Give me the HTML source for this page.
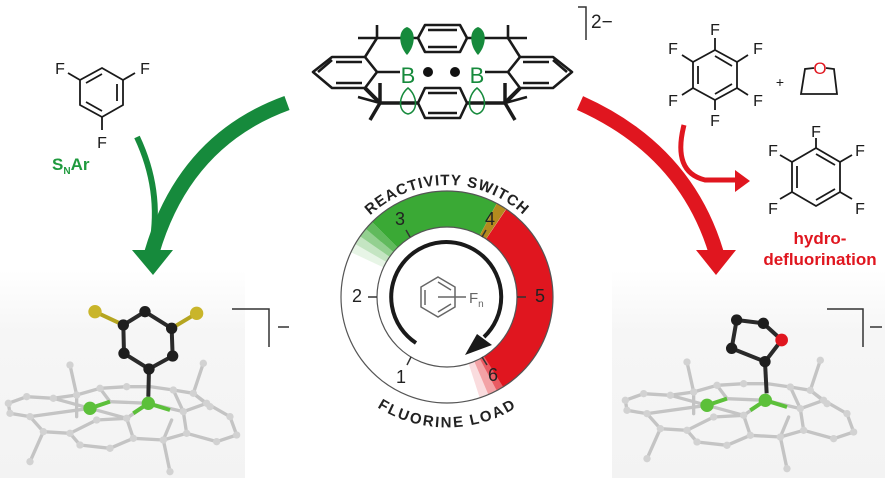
<!DOCTYPE html>
<html><head><meta charset="utf-8"><style>
html,body{margin:0;padding:0;background:#fff;}
svg{display:block;font-family:"Liberation Sans",sans-serif;}
</style></head><body>
<svg width="885" height="478" viewBox="0 0 885 478" xmlns="http://www.w3.org/2000/svg">
<defs>
<linearGradient id="bgL" x1="0" y1="0" x2="0" y2="1"><stop offset="0" stop-color="#fff"/><stop offset="0.3" stop-color="#f6f6f6"/><stop offset="1" stop-color="#f3f3f3"/></linearGradient>
<g id="frame">
 <g fill="none" stroke="#c4c4c4" stroke-width="10" stroke-linejoin="round" stroke-linecap="round">
  <polygon points="25,400 80,380 160,385 230,375 300,355 380,350 450,350 520,360 580,370 620,400 690,440 710,495 650,515 560,490 490,510 400,505 330,535 240,525 210,490 130,485 90,440 30,430"/>
  <polyline points="90,440 270,415 380,445 445,400 550,425 560,490"/>
  <polyline points="160,385 270,415"/>
  <polyline points="300,355 330,395 445,400"/>
  <polyline points="210,490 290,450 380,445 400,505"/>
  <polyline points="520,360 550,425 620,400"/>
  <polyline points="230,375 210,285"/><polyline points="230,375 230,440"/>
  <polyline points="580,370 610,280"/><polyline points="580,370 630,410"/>
  <polyline points="130,485 90,575"/><polyline points="490,510 515,450"/><polyline points="490,510 510,605"/>
 </g>
 <g fill="#d2d2d2">
  <circle cx="25" cy="400" r="11"/><circle cx="80" cy="380" r="11"/><circle cx="160" cy="385" r="11"/><circle cx="230" cy="375" r="11"/><circle cx="300" cy="355" r="11"/><circle cx="380" cy="350" r="11"/><circle cx="520" cy="360" r="11"/><circle cx="580" cy="370" r="11"/><circle cx="620" cy="400" r="11"/><circle cx="690" cy="440" r="11"/><circle cx="710" cy="495" r="11"/><circle cx="650" cy="515" r="11"/><circle cx="560" cy="490" r="11"/><circle cx="490" cy="510" r="11"/><circle cx="400" cy="505" r="11"/><circle cx="330" cy="535" r="11"/><circle cx="240" cy="525" r="11"/><circle cx="210" cy="490" r="11"/><circle cx="130" cy="485" r="11"/><circle cx="90" cy="440" r="11"/><circle cx="30" cy="430" r="11"/><circle cx="210" cy="285" r="11"/><circle cx="610" cy="280" r="11"/><circle cx="90" cy="575" r="11"/><circle cx="510" cy="605" r="11"/><circle cx="630" cy="410" r="11"/><circle cx="380" cy="445" r="11"/><circle cx="290" cy="450" r="11"/><circle cx="550" cy="425" r="11"/>
 </g>
 <g stroke="#5cc03a" stroke-width="12"><line x1="270" y1="415" x2="330" y2="395"/><line x1="445" y1="400" x2="510" y2="420"/><line x1="445" y1="400" x2="400" y2="430"/></g>
 <circle cx="270" cy="415" r="20" fill="#5cc03a"/><circle cx="445" cy="400" r="20" fill="#5cc03a"/>
</g>
</defs>

<rect x="0" y="270" width="245" height="208" fill="url(#bgL)"/>
<rect x="612" y="270" width="273" height="208" fill="url(#bgL)"/>

<!-- top macrocycle -->
<g fill="none" stroke="#1a1a1a" stroke-width="2.6" stroke-linejoin="round">
 <polygon points="313,72 332,57 365,57 377,72 365,88 332,88"/>
 <line x1="336" y1="62" x2="362" y2="62"/><line x1="336" y1="83" x2="362" y2="83"/><line x1="318" y1="72" x2="332" y2="60"/>
 <polygon points="572,72 553,57 520,57 508,72 520,88 553,88"/>
 <line x1="523" y1="62" x2="549" y2="62"/><line x1="523" y1="83" x2="549" y2="83"/><line x1="567" y1="72" x2="553" y2="60"/>
 <polygon points="425,25 460,25 467,38 460,52 425,52 418,38"/>
 <line x1="428" y1="30" x2="457" y2="30"/><line x1="428" y1="47" x2="457" y2="47"/>
 <polygon points="425,88 460,88 467,103 460,118 425,118 418,103"/>
 <line x1="428" y1="93" x2="457" y2="93"/><line x1="428" y1="113" x2="457" y2="113"/>
 <line x1="377" y1="72" x2="400" y2="72"/><line x1="485" y1="72" x2="508" y2="72"/>
 <line x1="365" y1="57" x2="377" y2="38"/><line x1="377" y1="38" x2="418" y2="38"/><line x1="377" y1="38" x2="358" y2="38"/><line x1="377" y1="38" x2="377" y2="25"/>
 <line x1="520" y1="57" x2="508" y2="38"/><line x1="508" y1="38" x2="467" y2="38"/><line x1="508" y1="38" x2="527" y2="38"/><line x1="508" y1="38" x2="508" y2="25"/>
 <line x1="365" y1="88" x2="380" y2="103" stroke-width="4"/><line x1="380" y1="103" x2="418" y2="103" stroke-width="3.5"/><line x1="380" y1="103" x2="380" y2="83" stroke-width="3.5"/><line x1="380" y1="103" x2="370" y2="120" stroke-width="3.5"/><line x1="380" y1="103" x2="358" y2="97"/>
 <line x1="520" y1="88" x2="505" y2="103" stroke-width="4"/><line x1="505" y1="103" x2="467" y2="103" stroke-width="3.5"/><line x1="505" y1="103" x2="505" y2="83" stroke-width="3.5"/><line x1="505" y1="103" x2="515" y2="120" stroke-width="3.5"/><line x1="505" y1="103" x2="527" y2="97"/>
</g>
<path d="M407,55 C398,45 398,30 407,27 C416,30 416,45 407,55Z" fill="#168a3c"/>
<path d="M478,55 C469,45 469,30 478,27 C487,30 487,45 478,55Z" fill="#168a3c"/>
<path d="M408,88 C398,96 398,112 408,114 C418,112 418,96 408,88Z" fill="none" stroke="#168a3c" stroke-width="1.5"/>
<path d="M477,88 C467,96 467,112 477,114 C487,112 487,96 477,88Z" fill="none" stroke="#168a3c" stroke-width="1.5"/>
<text x="408" y="83" font-size="22" fill="#168a3c" text-anchor="middle">B</text>
<text x="477" y="83" font-size="22" fill="#168a3c" text-anchor="middle">B</text>
<circle cx="428" cy="72" r="5" fill="#111"/><circle cx="455" cy="72" r="5" fill="#111"/>
<polyline points="578,7 586,7 586,40" fill="none" stroke="#333" stroke-width="1.5"/>
<text x="591" y="28" font-size="19" fill="#222">2−</text>

<!-- trifluorobenzene -->
<g fill="none" stroke="#1a1a1a" stroke-width="1.8">
 <polygon points="102,68 123,80 123,105 102,117 80,105 80,80"/>
 <line x1="86" y1="83" x2="102" y2="74"/><line x1="117" y1="84" x2="117" y2="101"/><line x1="86" y1="102" x2="102" y2="111"/>
 <line x1="80" y1="80" x2="68" y2="73"/><line x1="123" y1="80" x2="135" y2="73"/><line x1="102" y1="117" x2="102" y2="130"/>
</g>
<g font-size="16" fill="#1a1a1a" text-anchor="middle"><text x="60" y="74">F</text><text x="145" y="74">F</text><text x="102" y="148">F</text></g>
<text x="52" y="170" font-size="17" font-weight="bold" fill="#1f9a3e">S<tspan font-size="10" dy="4">N</tspan><tspan dy="-4">Ar</tspan></text>

<!-- green arrows -->
<path d="M137,137 Q162,190 152,245" fill="none" stroke="#168a3c" stroke-width="6"/>
<path d="M287,103 Q185,140 152,252" fill="none" stroke="#168a3c" stroke-width="15"/>
<polygon points="132,250 173,250 153,275" fill="#168a3c"/>

<!-- red side -->
<g fill="none" stroke="#1a1a1a" stroke-width="1.8">
 <polygon points="715,50 737,62 737,88 715,100 693,88 693,62"/>
 <line x1="715" y1="56" x2="732" y2="66"/><line x1="698" y1="66" x2="698" y2="84"/><line x1="715" y1="94" x2="732" y2="84"/>
 <line x1="715" y1="50" x2="715" y2="38"/><line x1="737" y1="62" x2="748" y2="55"/><line x1="737" y1="88" x2="748" y2="95"/><line x1="715" y1="100" x2="715" y2="110"/><line x1="693" y1="88" x2="682" y2="95"/><line x1="693" y1="62" x2="682" y2="55"/>
 <polyline points="814,68 805,69 801,94 837,94 834,69 826,68"/>
 <polygon points="816,148 840,162 840,192 816,206 792,192 792,162"/>
 <line x1="816" y1="154" x2="835" y2="165"/><line x1="797" y1="166" x2="797" y2="188"/><line x1="816" y1="200" x2="835" y2="189"/>
 <line x1="816" y1="148" x2="816" y2="138"/><line x1="840" y1="162" x2="852" y2="155"/><line x1="840" y1="192" x2="852" y2="199"/><line x1="792" y1="192" x2="780" y2="199"/><line x1="792" y1="162" x2="780" y2="155"/>
</g>
<g font-size="16" fill="#1a1a1a" text-anchor="middle">
 <text x="715" y="35">F</text><text x="673" y="54">F</text><text x="758" y="54">F</text><text x="673" y="106">F</text><text x="758" y="106">F</text><text x="715" y="126">F</text>
 <text x="816" y="137">F</text><text x="773" y="156">F</text><text x="860" y="156">F</text><text x="773" y="214">F</text><text x="860" y="214">F</text>
 <text x="780" y="87" font-size="14">+</text>
</g>
<text x="820" y="74" font-size="17" fill="#e0161f" text-anchor="middle">O</text>
<g font-size="17" font-weight="bold" fill="#e0161f" text-anchor="middle"><text x="820" y="244">hydro-</text><text x="820" y="265">defluorination</text></g>

<path d="M684,125 Q672,172 705,180 L738,180" fill="none" stroke="#e0161f" stroke-width="5"/>
<polygon points="735,170 750,181 735,192" fill="#e0161f"/>
<path d="M580,103 Q685,150 716,252" fill="none" stroke="#e0161f" stroke-width="15"/>
<polygon points="696,250 736,250 716,275" fill="#e0161f"/>

<!-- gauge -->
<g fill="none" stroke-width="36">
 <circle cx="447" cy="297" r="88" stroke="#3aa935" stroke-opacity="0.12" stroke-dasharray="7.7 553" transform="rotate(-155 447 297)"/>
 <circle cx="447" cy="297" r="88" stroke="#3aa935" stroke-opacity="0.3" stroke-dasharray="7.7 553" transform="rotate(-150 447 297)"/>
 <circle cx="447" cy="297" r="88" stroke="#3aa935" stroke-opacity="0.55" stroke-dasharray="7.7 553" transform="rotate(-145 447 297)"/>
 <circle cx="447" cy="297" r="88" stroke="#3aa935" stroke-opacity="0.8" stroke-dasharray="7.7 553" transform="rotate(-140 447 297)"/>
 <circle cx="447" cy="297" r="88" stroke="#3aa935" stroke-dasharray="112 553" transform="rotate(-135 447 297)"/>
 <circle cx="447" cy="297" r="88" stroke="#b38a1e" stroke-dasharray="9 553" transform="rotate(-62 447 297)"/>
 <circle cx="447" cy="297" r="88" stroke="#e0161f" stroke-dasharray="175 553" transform="rotate(-56 447 297)"/>
 <circle cx="447" cy="297" r="88" stroke="#e0161f" stroke-opacity="0.7" stroke-dasharray="7.7 553" transform="rotate(57 447 297)"/>
 <circle cx="447" cy="297" r="88" stroke="#e0161f" stroke-opacity="0.4" stroke-dasharray="7.7 553" transform="rotate(62 447 297)"/>
 <circle cx="447" cy="297" r="88" stroke="#e0161f" stroke-opacity="0.15" stroke-dasharray="7.7 553" transform="rotate(67 447 297)"/>
</g>
<circle cx="447" cy="297" r="106" fill="none" stroke="#555" stroke-width="1.2"/>
<circle cx="447" cy="297" r="70" fill="none" stroke="#555" stroke-width="1.2"/>
<g stroke="#333" stroke-width="1.5">
 <line x1="410" y1="237" x2="406" y2="230"/><line x1="482" y1="237" x2="486" y2="230"/><line x1="517" y1="297" x2="526" y2="297"/><line x1="482" y1="357" x2="487" y2="365"/><line x1="411" y1="357" x2="407" y2="365"/><line x1="377" y1="297" x2="368" y2="297"/>
</g>
<g font-size="18" fill="#222" text-anchor="middle">
 <text x="400" y="225">3</text><text x="490" y="225">4</text><text x="540" y="302">5</text><text x="493" y="381">6</text><text x="401" y="383">1</text><text x="357" y="302">2</text>
</g>
<path d="M416,343 A55,55 0 1,1 484,337" fill="none" stroke="#1a1a1a" stroke-width="4"/>
<polygon points="465,355 477,334 492,345" fill="#1a1a1a"/>
<g fill="none" stroke="#666" stroke-width="1.5">
 <polygon points="438,277 455,287 455,307 438,317 421,307 421,287"/>
 <line x1="425" y1="290" x2="425" y2="305"/><line x1="438" y1="282" x2="451" y2="290"/><line x1="438" y1="312" x2="451" y2="304"/>
 <line x1="438" y1="297" x2="466" y2="297"/>
</g>
<text x="469" y="303" font-size="15" fill="#666">F<tspan font-size="10" dy="4">n</tspan></text>
<path id="arcTop" d="M335,297 A112,112 0 0,1 559,297" fill="none"/>
<path id="arcBot" d="M327,297 A120,120 0 0,0 567,297" fill="none"/>
<text font-size="15" font-weight="bold" fill="#222" letter-spacing="1"><textPath href="#arcTop" startOffset="50%" text-anchor="middle">REACTIVITY SWITCH</textPath></text>
<text font-size="15" font-weight="bold" fill="#222" letter-spacing="1"><textPath href="#arcBot" startOffset="50%" text-anchor="middle" dominant-baseline="hanging">FLUORINE LOAD</textPath></text>

<!-- left molecule -->
<g transform="translate(0,270) scale(0.3333)">
 <use href="#frame"/>
 <g stroke="#2a2a2a" stroke-width="12" fill="none"><polygon points="435,125 515,175 518,258 447,297 372,250 370,165"/><line x1="447" y1="297" x2="445" y2="380"/><line x1="370" y1="165" x2="285" y2="125" stroke="#b5a520"/><line x1="515" y1="175" x2="590" y2="130" stroke="#b5a520"/></g>
 <g fill="#1e1e1e"><circle cx="435" cy="125" r="17"/><circle cx="515" cy="175" r="17"/><circle cx="518" cy="258" r="17"/><circle cx="447" cy="297" r="17"/><circle cx="372" cy="250" r="17"/><circle cx="370" cy="165" r="17"/></g>
 <circle cx="285" cy="125" r="20" fill="#c9b52a"/><circle cx="590" cy="130" r="20" fill="#c9b52a"/>
</g>
<polyline points="232,309 269,309 269,347" fill="none" stroke="#333" stroke-width="1.5"/>
<line x1="278" y1="327" x2="289" y2="327" stroke="#333" stroke-width="1.5"/>

<!-- right molecule -->
<g transform="translate(617,267) scale(0.3333)"><use href="#frame"/></g>
<g transform="translate(600,270) scale(0.3333)">
 <g stroke="#2a2a2a" stroke-width="12" fill="none"><polyline points="545,210 490,160 410,150 395,235 495,275 545,210"/><line x1="495" y1="275" x2="500" y2="370"/></g>
 <g fill="#1e1e1e"><circle cx="410" cy="150" r="17"/><circle cx="490" cy="160" r="17"/><circle cx="395" cy="235" r="17"/><circle cx="495" cy="275" r="17"/></g>
 <circle cx="545" cy="210" r="19" fill="#e0161f"/>
</g>
<polyline points="827,309 863,309 863,347" fill="none" stroke="#333" stroke-width="1.5"/>
<line x1="870" y1="327" x2="882" y2="327" stroke="#333" stroke-width="1.5"/>
</svg>
</body></html>
